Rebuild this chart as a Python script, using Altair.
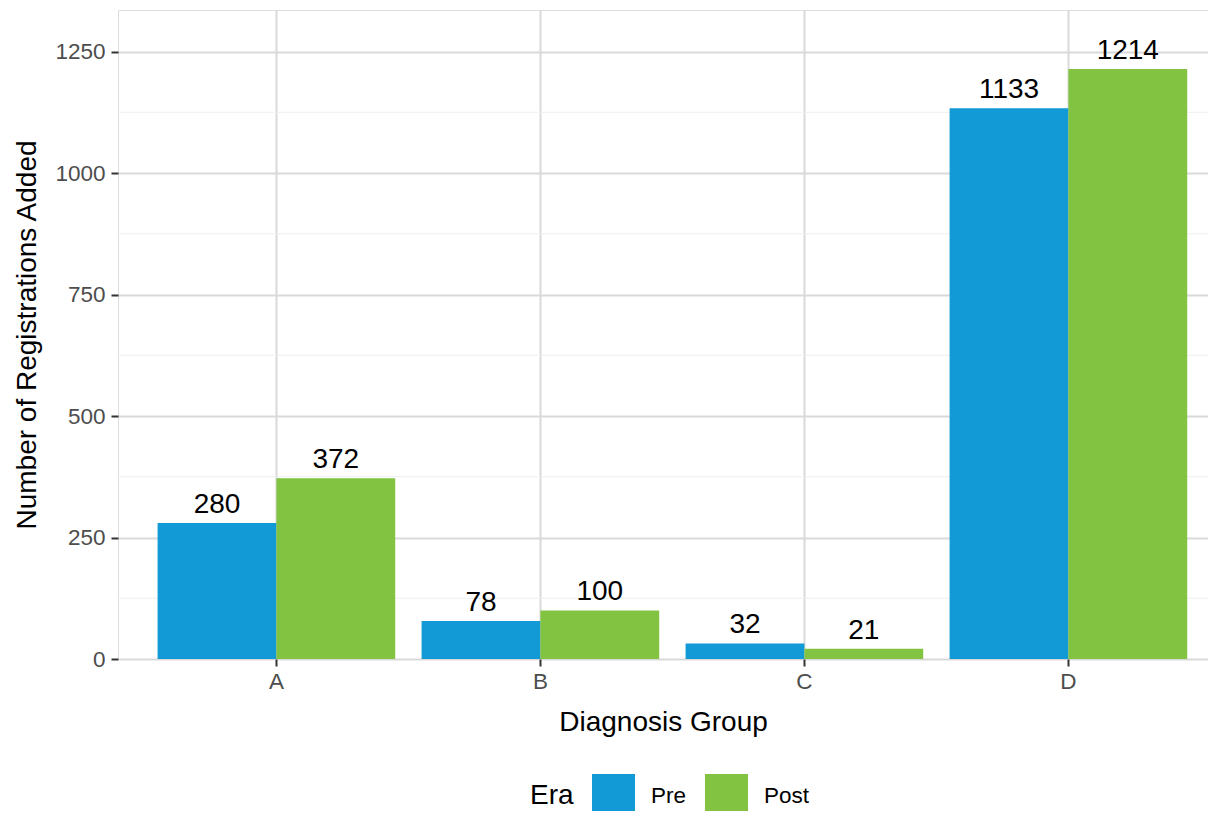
import altair as alt
import pandas as pd

# ---- data ----
groups = ["A", "B", "C", "D"]
eras = ["Pre", "Post"]
pre_values = [280, 78, 32, 1133]
post_values = [372, 100, 21, 1214]
y_major = [0, 250, 500, 750, 1000, 1250]
y_minor = [125, 375, 625, 875, 1125]
era_colors = ["#119AD6", "#82C341"]

rows = []
for g, pre, post in zip(groups, pre_values, post_values):
    rows.append({"group": g, "era": "Pre", "count": pre})
    rows.append({"group": g, "era": "Post", "count": post})
df = pd.DataFrame(rows)
minor_df = pd.DataFrame({"count": y_minor})

FONT = "Liberation Sans"
ymax = max(pre_values + post_values) * 1.1

x_scale = alt.Scale(domain=groups, paddingInner=0.1, paddingOuter=0.1144, align=0.6556)
y_scale = alt.Scale(domain=[0, ymax], nice=False, zero=True)
off_scale = alt.Scale(domain=eras, paddingInner=0, paddingOuter=0)

x_axis = alt.Axis(
    title="Diagnosis Group", labelAngle=0, bandPosition=0.5,
    grid=True, gridColor="#d9d9d9", gridWidth=2,
    domain=False, ticks=True, tickColor="#333333", tickWidth=2, tickSize=7,
    labelFont=FONT, labelFontSize=22.5, labelColor="#4d4d4d", labelPadding=4,
    titleFont=FONT, titleFontSize=28, titleFontWeight="normal", titleColor="black",
    titlePadding=16,
)
y_axis = alt.Axis(
    title="Number of Registrations Added", values=y_major, format="d",
    grid=True, gridColor="#d9d9d9", gridWidth=2,
    domain=False, ticks=True, tickColor="#333333", tickWidth=2, tickSize=7,
    labelFont=FONT, labelFontSize=22.5, labelColor="#4d4d4d", labelPadding=6,
    titleFont=FONT, titleFontSize=28, titleFontWeight="normal", titleColor="black",
    titlePadding=13,
)

minor = alt.Chart(minor_df).mark_rule(color="#eeeeee", strokeWidth=1).encode(
    y=alt.Y("count:Q", scale=y_scale, axis=y_axis)
)

base = alt.Chart(df).encode(
    x=alt.X("group:N", scale=x_scale, axis=x_axis),
    xOffset=alt.XOffset("era:N", scale=off_scale, sort=eras),
    y=alt.Y("count:Q", scale=y_scale, axis=y_axis),
)

bars = base.mark_bar(opacity=1).encode(
    color=alt.Color(
        "era:N", sort=eras,
        scale=alt.Scale(domain=eras, range=era_colors),
        legend=alt.Legend(
            title="Era", orient="none", legendX=412, legendY=764,
            direction="horizontal", titleOrient="left",
            titleFont=FONT, titleFontSize=28, titleFontWeight="normal", titleColor="black",
            titlePadding=18, titleBaseline="middle",
            labelFont=FONT, labelFontSize=22.5, labelColor="black",
            symbolType="square", symbolSize=1849, symbolStrokeWidth=0, symbolOpacity=1,
            labelOffset=16, columnPadding=18, padding=0,
        ),
    )
)

labels = base.mark_text(
    dy=-10, baseline="alphabetic", align="center", font=FONT, fontSize=28, color="black"
).encode(text=alt.Text("count:Q"))

chart = alt.layer(minor, bars, labels).properties(
    width=1090, height=649,
    autosize=alt.AutoSizeParams(type="none"),
    padding={"left": 110, "top": 2, "right": 0, "bottom": 152},
).configure_view(stroke=None).configure(background="white")

chart.save("out.html", embed_options={"renderer": "svg", "actions": False})
